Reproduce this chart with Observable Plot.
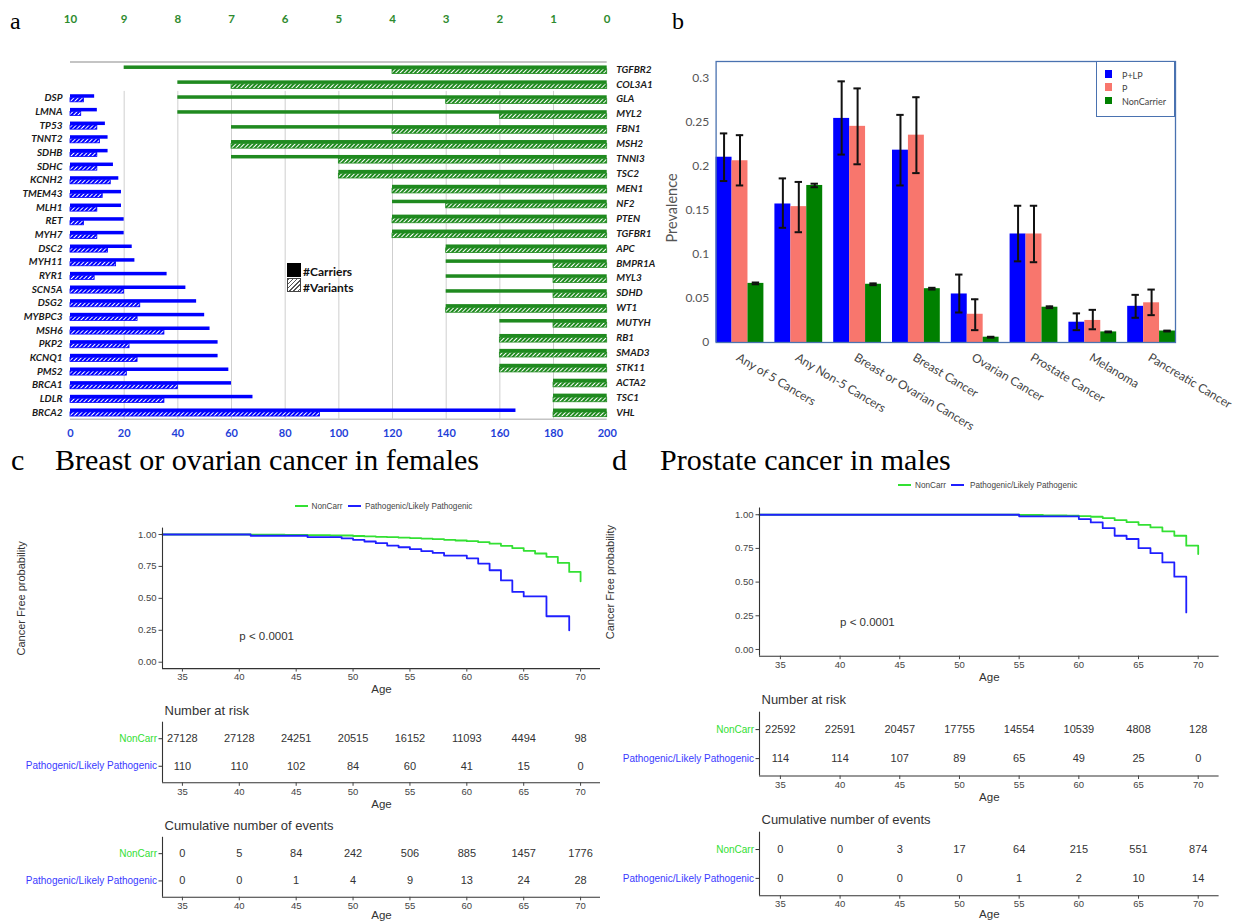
<!DOCTYPE html>
<html>
<head>
<meta charset="utf-8">
<script src="https://cdn.jsdelivr.net/npm/d3@7"></script>
<script src="https://cdn.jsdelivr.net/npm/@observablehq/plot@0.6"></script>
<style>
html,body{margin:0;padding:0;background:#fff;}
#fig{position:relative;width:1241px;height:921px;overflow:hidden;background:#fff;}
#fig > div{position:absolute;}
.t{white-space:nowrap;line-height:1;}
</style>
</head>
<body>
<svg width="0" height="0" style="position:absolute;left:0;top:0">
<defs>
<pattern id="hatchBlue" patternUnits="userSpaceOnUse" width="3" height="3" patternTransform="rotate(45)">
<rect width="3" height="3" fill="#0000ff"/>
<line x1="1.5" y1="0" x2="1.5" y2="3" stroke="#ffffff" stroke-width="1"/>
</pattern>
<pattern id="hatchGreen" patternUnits="userSpaceOnUse" width="3" height="3" patternTransform="rotate(45)">
<rect width="3" height="3" fill="#1f8a1f"/>
<line x1="1.5" y1="0" x2="1.5" y2="3" stroke="#ffffff" stroke-width="1"/>
</pattern>
</defs>
</svg>
<div id="fig"></div>
<script>
// ================= DATA =================
// Panel a — blue genes (bottom axis 0..200)
const blueGenes = ["DSP","LMNA","TP53","TNNT2","SDHB","SDHC","KCNH2","TMEM43","MLH1","RET","MYH7","DSC2","MYH11","RYR1","SCN5A","DSG2","MYBPC3","MSH6","PKP2","KCNQ1","PMS2","BRCA1","LDLR","BRCA2"];
const blueCarriers = [9,10,13,14,14,16,18,19,19,20,20,23,24,36,43,47,50,52,55,55,59,60,68,166];
const blueVariants = [5,4,10,11,10,10,15,12,10,5,10,14,17,9,20,26,25,35,22,25,21,40,35,93];
const blueTicks = [0,20,40,60,80,100,120,140,160,180,200];
// Panel a — green genes (top axis 10..0)
const greenGenes = ["TGFBR2","COL3A1","GLA","MYL2","FBN1","MSH2","TNNI3","TSC2","MEN1","NF2","PTEN","TGFBR1","APC","BMPR1A","MYL3","SDHD","WT1","MUTYH","RB1","SMAD3","STK11","ACTA2","TSC1","VHL"];
const greenCarriers = [9,8,8,8,7,7,7,5,4,4,4,4,3,3,3,3,3,2,2,2,2,1,1,1];
const greenVariants = [4,7,3,2,4,7,5,5,4,3,4,4,3,1,1,1,3,1,2,2,2,1,1,1];
const greenTicks = [10,9,8,7,6,5,4,3,2,1,0];
const legendA = ["#Carriers", "#Variants"];

// Panel b
const cancers = ["Any of 5 Cancers","Any Non-5 Cancers","Breast or Ovarian Cancers","Breast Cancer","Ovarian Cancer","Prostate Cancer","Melanoma","Pancreatic Cancer"];
const groupsB = ["P+LP","P","NonCarrier"];
const prevPLP = [0.210,0.157,0.254,0.218,0.055,0.123,0.023,0.041];
const lowPLP  = [0.183,0.130,0.213,0.178,0.034,0.092,0.014,0.028];
const highPLP = [0.237,0.186,0.296,0.258,0.077,0.155,0.033,0.054];
const prevP   = [0.206,0.154,0.245,0.235,0.032,0.123,0.025,0.045];
const lowP    = [0.178,0.125,0.202,0.192,0.014,0.091,0.015,0.031];
const highP   = [0.235,0.182,0.288,0.278,0.049,0.155,0.037,0.060];
const prevNC  = [0.067,0.178,0.066,0.061,0.006,0.040,0.012,0.013];
const lowNC   = [0.066,0.176,0.065,0.060,0.0055,0.039,0.0115,0.0125];
const highNC  = [0.068,0.180,0.067,0.062,0.0065,0.041,0.0125,0.0135];
const prevTicks = [0,0.05,0.1,0.15,0.2,0.25,0.3];

// Panels c, d
const kmGroups = ["NonCarr","Pathogenic/Likely Pathogenic"];
const kmXTicks = [35,40,45,50,55,60,65,70];
const kmYTicks = [0,0.25,0.5,0.75,1];
const kmXDomain = [33.25, 71.75];
const pvalText = "p < 0.0001";
// c: breast or ovarian cancer in females
const cNcAges = [33.25,41,44,46,48,50,51,52,53,54,55,56,57,58,59,60,61,62,63,64,65,66,67,68,69,70];
const cNcSurv = [1,0.999,0.997,0.995,0.992,0.988,0.985,0.982,0.979,0.975,0.972,0.968,0.963,0.958,0.953,0.948,0.94,0.928,0.911,0.893,0.872,0.851,0.825,0.777,0.707,0.634];
const cPlAges = [33.25,41,46,49,50,51,52,53,54,55,56,57,58,60,61,62,63,64,65,67,69];
const cPlSurv = [1,0.99,0.979,0.969,0.958,0.945,0.932,0.913,0.90,0.885,0.869,0.856,0.835,0.813,0.772,0.72,0.64,0.55,0.515,0.36,0.25];
// d: prostate cancer in males
const dNcAges = [33.25,55,57,59,60,61,62,63,64,65,66,67,68,69,70];
const dNcSurv = [1,0.998,0.996,0.993,0.99,0.985,0.975,0.96,0.945,0.925,0.906,0.876,0.844,0.77,0.708];
const dPlAges = [33.25,55,60,61,62,63,64,65,66,67,68,69];
const dPlSurv = [1,0.988,0.968,0.943,0.90,0.844,0.82,0.752,0.715,0.646,0.54,0.275];
// tables
const tableAges = [35,40,45,50,55,60,65,70];
const riskC_nc = [27128,27128,24251,20515,16152,11093,4494,98];
const riskC_pl = [110,110,102,84,60,41,15,0];
const eventsC_nc = [0,5,84,242,506,885,1457,1776];
const eventsC_pl = [0,0,1,4,9,13,24,28];
const riskD_nc = [22592,22591,20457,17755,14554,10539,4808,128];
const riskD_pl = [114,114,107,89,65,49,25,0];
const eventsD_nc = [0,0,3,17,64,215,551,874];
const eventsD_pl = [0,0,0,0,1,2,10,14];

// ================= HELPERS =================
const fig = document.getElementById("fig");
function put(node, left, top) {
  const d = document.createElement("div");
  d.style.left = left + "px"; d.style.top = top + "px";
  d.appendChild(node); fig.appendChild(d); return d;
}
function txt(text, left, top, css) {
  const d = document.createElement("div");
  d.className = "t"; d.textContent = text;
  d.style.cssText += `left:${left}px;top:${top}px;${css || ""}`;
  fig.appendChild(d); return d;
}
function box(left, top, w, h, css) {
  const d = document.createElement("div");
  d.style.cssText += `left:${left}px;top:${top}px;width:${w}px;height:${h}px;box-sizing:border-box;${css || ""}`;
  fig.appendChild(d); return d;
}
const baseStyle = {background: "transparent", overflow: "visible"};

// ================= PANEL A =================
const blueRows = blueGenes.map((gene, i) => ({gene, i, carriers: blueCarriers[i], variants: blueVariants[i]}));
const greenRows = greenGenes.map((gene, i) => ({gene, i, carriers: greenCarriers[i], variants: greenVariants[i]}));
const AW = 700, AH = 445, AL = 70, AR = 606.7;

const bluePlot = Plot.plot({
  width: AW, height: AH,
  marginLeft: AL, marginRight: AW - AR, marginTop: 90.9, marginBottom: AH - 418.8,
  style: {...baseStyle, fontFamily: "Lato, sans-serif"},
  x: {domain: [0, 200]},
  y: {domain: [blueGenes.length - 0.5, -0.5], axis: null},
  marks: [
    Plot.gridX({ticks: blueTicks.slice(1, -1), stroke: "#cfcfcf", strokeOpacity: 1, strokeWidth: 1}),
    Plot.ruleY([blueGenes.length - 0.5], {stroke: "#c4c4c4", strokeWidth: 1.6}),
    Plot.rect(blueRows, {x1: 0, x2: "carriers", y1: d => d.i - 0.256, y2: "i", fill: "#0000ff"}),
    Plot.rect(blueRows, {x1: 0, x2: "variants", y1: "i", y2: d => d.i + 0.3, fill: "url(#hatchBlue)", stroke: "#0000ff", strokeWidth: 0.8}),
    Plot.text(blueRows, {x: 0, y: "i", text: "gene", textAnchor: "end", dx: -8, fontSize: 10, fontWeight: "bold", fontStyle: "italic", fill: "#1a1a1a"}),
    Plot.axisX({anchor: "bottom", ticks: blueTicks, tickSize: 0, tickPadding: 10, fontSize: 11, fontWeight: "bold", fill: "#1f3fd8", label: null})
  ]
});
put(bluePlot, 0, 0);

const greenPlot = Plot.plot({
  width: AW, height: AH,
  marginLeft: AL, marginRight: AW - AR, marginTop: 61.5, marginBottom: AH - 419.5,
  style: {...baseStyle, fontFamily: "Lato, sans-serif"},
  x: {domain: [10, 0]},
  y: {domain: [greenGenes.length - 0.5, -0.5], axis: null},
  marks: [
    Plot.ruleY([-0.5], {stroke: "#c4c4c4", strokeWidth: 2}),
    Plot.rect(greenRows, {x1: 0, x2: "carriers", y1: d => d.i - 0.235, y2: "i", fill: "#1f8a1f"}),
    Plot.rect(greenRows, {x1: 0, x2: "variants", y1: "i", y2: d => d.i + 0.31, fill: "url(#hatchGreen)", stroke: "#1f8a1f", strokeWidth: 0.8}),
    Plot.text(greenRows, {x: 0, y: "i", text: "gene", textAnchor: "start", dx: 9, fontSize: 10, fontWeight: "bold", fontStyle: "italic", fill: "#1a1a1a"}),
    Plot.axisX({anchor: "top", ticks: greenTicks, tickSize: 0, tickPadding: 39, fontSize: 11.5, fontWeight: "bold", fill: "#2e8b2e", label: null})
  ]
});
put(greenPlot, 0, 0);

// legend a
box(287, 263, 14, 14, "background:#000;");
box(287, 278, 14, 14, "border:1px solid #444;background:repeating-linear-gradient(135deg,#555 0px,#555 1px,#fff 1px,#fff 3px);");
txt(legendA[0], 303, 264, "font:bold 12px Lato, sans-serif;color:#111;");
txt(legendA[1], 303, 280, "font:bold 12px Lato, sans-serif;color:#111;");

// ================= PANEL B =================
const wB = 0.271, capB = 0.063;
const bSeries = [
  {prev: prevPLP, lo: lowPLP, hi: highPLP},
  {prev: prevP, lo: lowP, hi: highP},
  {prev: prevNC, lo: lowNC, hi: highNC}
];
const bRows = [];
cancers.forEach((c, i) => bSeries.forEach((s, k) => bRows.push({ci: i, s: k, series: groupsB[k], value: s.prev[i], lo: s.lo[i], hi: s.hi[i]})));
const cx = d => d.ci + (d.s - 1) * wB;

const bPlot = Plot.plot({
  width: 581, height: 420,
  marginLeft: 55.6, marginRight: 66, marginTop: 31, marginBottom: 108,
  style: {...baseStyle, fontFamily: "Lato, sans-serif"},
  x: {domain: [-1.5 * wB, cancers.length - 1 + 1.5 * wB], axis: null},
  y: {domain: [0, 0.3185]},
  color: {domain: groupsB, range: ["#0000ff", "#f8766d", "#008000"]},
  marks: [
    Plot.rect(bRows, {x1: d => cx(d) - wB / 2, x2: d => cx(d) + wB / 2, y1: 0, y2: "value", fill: "series"}),
    Plot.ruleX(bRows, {x: cx, y1: "lo", y2: "hi", stroke: "#111", strokeWidth: 2}),
    Plot.ruleY(bRows, {y: "hi", x1: d => cx(d) - capB, x2: d => cx(d) + capB, stroke: "#111", strokeWidth: 2}),
    Plot.ruleY(bRows, {y: "lo", x1: d => cx(d) - capB, x2: d => cx(d) + capB, stroke: "#111", strokeWidth: 2}),
    Plot.frame({stroke: "#4a72b0", strokeWidth: 1.3}),
    Plot.axisY({ticks: prevTicks, tickSize: 0, tickPadding: 7, tickFormat: d => String(+d.toFixed(2)), fontSize: 12, fill: "#555", label: null}),
    Plot.text(cancers, {x: (d, i) => i, frameAnchor: "bottom", text: d => d, rotate: 31, textAnchor: "start", lineAnchor: "top", dy: 10, dx: 0, fontSize: 12, fill: "#444"}),
    Plot.text(["Prevalence"], {frameAnchor: "left", text: d => d, rotate: -90, textAnchor: "middle", lineAnchor: "middle", dx: -44, dy: 6, fontSize: 14.5, fill: "#555"})
  ]
});
put(bPlot, 660, 30);

// legend b
box(1096, 61, 79, 56, "border:1.3px solid #4a72b0;background:#fff;");
const bLegendColors = ["#0000ff", "#f8766d", "#008000"];
groupsB.forEach((g, k) => {
  box(1104.5, 70 + k * 13.3, 7.5, 7.5, `background:${bLegendColors[k]};`);
  txt(g, 1122, 69.5 + k * 13.3, "font:9px Lato, sans-serif;color:#444;");
});

// ================= PANELS C, D =================
const kmColors = ["#33e033", "#1f1fff"];
const kmTextColors = ["#33e033", "#3a3aff"];
function kmRows(ncA, ncS, plA, plS) {
  return [
    ...ncA.map((a, i) => ({group: kmGroups[0], age: a, surv: ncS[i]})),
    ...plA.map((a, i) => ({group: kmGroups[1], age: a, surv: plS[i]}))
  ];
}
function kmPlot(cfg) {
  return Plot.plot({
    width: cfg.width, height: cfg.height,
    marginLeft: cfg.ml, marginRight: cfg.mr, marginTop: cfg.mt, marginBottom: cfg.mb,
    style: {...baseStyle, fontFamily: "'Liberation Sans', Arial, sans-serif"},
    x: {domain: kmXDomain},
    y: {domain: [-0.05, 1.05]},
    color: {domain: kmGroups, range: kmColors},
    marks: [
      Plot.line(cfg.rows, {x: "age", y: "surv", z: "group", stroke: "group", curve: "step-after", strokeWidth: 1.8}),
      Plot.ruleX([kmXDomain[0]], {stroke: "#333", strokeWidth: 1.1}),
      Plot.ruleY([-0.05], {stroke: "#333", strokeWidth: 1.1}),
      Plot.axisY({ticks: kmYTicks, tickFormat: d3.format(".2f"), tickSize: 3.5, tickPadding: 2.5, fontSize: 9.5, color: "#444", label: null}),
      Plot.axisX({ticks: kmXTicks, tickSize: 3.5, tickPadding: 1.5, fontSize: 9.5, color: "#444", label: null}),
      Plot.text(["Age"], {frameAnchor: "bottom", text: d => d, lineAnchor: "middle", dy: cfg.ageDy, fontSize: 11.5, fill: "#333"}),
      Plot.text(["Cancer Free probability"], {frameAnchor: "left", text: d => d, rotate: -90, textAnchor: "middle", lineAnchor: "middle", dx: cfg.ylabDx, fontSize: 11, fill: "#333"}),
      Plot.text([pvalText], {x: 40, y: 0.2, text: d => d, textAnchor: "start", fontSize: 11.5, fill: "#333"})
    ]
  });
}
function tablePlot(cfg) {
  const rows = [];
  kmGroups.forEach((g, gi) => tableAges.forEach((a, j) => rows.push({gi, age: a, n: cfg.values[gi][j]})));
  return Plot.plot({
    width: cfg.width, height: cfg.height,
    marginLeft: cfg.ml, marginRight: cfg.mr, marginTop: cfg.mt, marginBottom: cfg.mb,
    style: {...baseStyle, fontFamily: "'Liberation Sans', Arial, sans-serif"},
    x: {domain: kmXDomain},
    y: {domain: [kmGroups.length - 0.4, -0.6]},
    color: {domain: kmGroups, range: kmTextColors},
    marks: [
      Plot.ruleX([kmXDomain[0]], {stroke: "#333", strokeWidth: 1.1}),
      Plot.ruleY([kmGroups.length - 0.4], {stroke: "#333", strokeWidth: 1.1}),
      Plot.axisY({ticks: [0, 1], tickSize: 3.5, tickFormat: () => "", color: "#333", label: null}),
      Plot.text(kmGroups, {x: kmXDomain[0], y: (d, i) => i, text: d => d, textAnchor: "end", dx: -5.5, fill: d => d, fontSize: 10}),
      Plot.text(rows, {x: "age", y: "gi", text: d => String(d.n), fontSize: 11, fill: "#333"}),
      Plot.axisX({ticks: tableAges, tickSize: 3.5, tickPadding: 1.5, fontSize: 9.5, color: "#444", label: null}),
      Plot.text(["Age"], {frameAnchor: "bottom", text: d => d, lineAnchor: "middle", dy: cfg.ageDy, fontSize: 11.5, fill: "#333"}),
      Plot.text([cfg.title], {frameAnchor: "top-left", text: d => d, textAnchor: "start", lineAnchor: "middle", dx: 2, dy: cfg.titleDy, fontSize: 13, fill: "#333"})
    ]
  });
}

// ---- C ----  (frame x 162..600)
const cML = 162, cMR = 620 - 600;
put(kmPlot({width: 620, height: 205, ml: cML, mr: cMR, mt: 32.6, mb: 31.9, ageDy: 20.9, ylabDx: -141.4,
  rows: kmRows(cNcAges, cNcSurv, cPlAges, cPlSurv)}), 0, 495);
put(tablePlot({width: 620, height: 120, ml: cML, mr: cMR, mt: 26.7, mb: 32.7, ageDy: 21.4, titleDy: -11,
  title: "Number at risk", values: [riskC_nc, riskC_pl]}), 0, 695);
put(tablePlot({width: 620, height: 111, ml: cML, mr: cMR, mt: 26.8, mb: 24.2, ageDy: 17.6, titleDy: -11.8,
  title: "Cumulative number of events", values: [eventsC_nc, eventsC_pl]}), 0, 810);

// ---- D ----  (frame x 759..1218.6)
const dML = 159, dMR = 641 - 618.6;
put(kmPlot({width: 641, height: 195, ml: dML, mr: dMR, mt: 12.5, mb: 34.3, ageDy: 21.3, ylabDx: -148.8,
  rows: kmRows(dNcAges, dNcSurv, dPlAges, dPlSurv)}), 600, 495);
put(tablePlot({width: 641, height: 120, ml: dML, mr: dMR, mt: 26.7, mb: 29.5, ageDy: 21.2, titleDy: -12.4,
  title: "Number at risk", values: [riskD_nc, riskD_pl]}), 600, 685);
put(tablePlot({width: 641, height: 116, ml: dML, mr: dMR, mt: 26.7, mb: 25.8, ageDy: 18.3, titleDy: -12.4,
  title: "Cumulative number of events", values: [eventsD_nc, eventsD_pl]}), 600, 805);

// KM legends
function kmLegend(y, pos) {
  box(pos[0], y - 1, 13, 2, `background:${kmColors[0]};`);
  txt(kmGroups[0], pos[1], y - 4.5, "font:8.2px 'Liberation Sans', Arial, sans-serif;color:#444;");
  box(pos[2], y - 1, 13, 2, `background:${kmColors[1]};`);
  txt(kmGroups[1], pos[3], y - 4.5, "font:8.2px 'Liberation Sans', Arial, sans-serif;color:#444;");
}
kmLegend(506, [295, 311.5, 348, 365]);
kmLegend(485, [898, 915, 951, 970]);

// ================= TITLES =================
const serif = "'Liberation Serif', 'Times New Roman', serif";
txt("a", 10, 8, `font:24px ${serif};color:#000;`);
txt("b", 672, 8, `font:24px ${serif};color:#000;`);
txt("c", 11, 443, `font:30px ${serif};color:#000;`);
txt("Breast or ovarian cancer in females", 55, 443, `font:30px ${serif};color:#000;`);
txt("d", 612, 443, `font:30px ${serif};color:#000;`);
txt("Prostate cancer in males", 660, 443, `font:30px ${serif};color:#000;`);
</script>
</body>
</html>
